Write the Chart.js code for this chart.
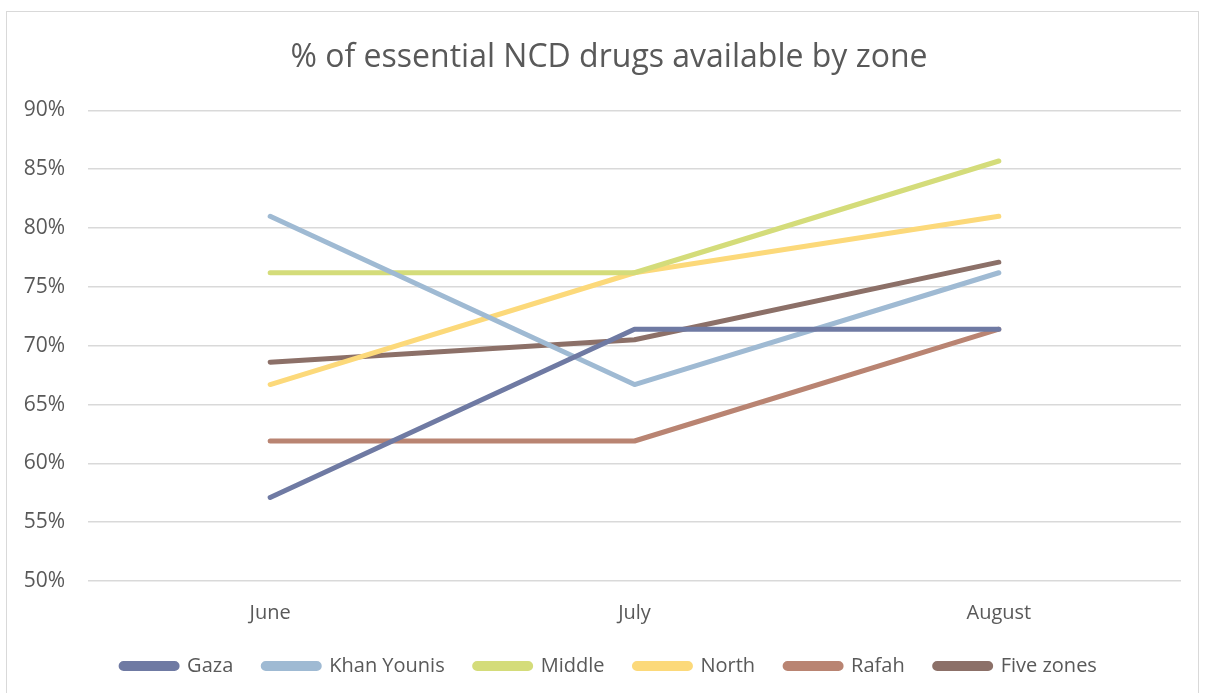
<!DOCTYPE html>
<html>
<head>
<meta charset="utf-8">
<script src="https://cdn.jsdelivr.net/npm/chart.js@4/dist/chart.umd.min.js"></script>
<style>
  html, body { margin: 0; padding: 0; background: #fff; }
  body { width: 1205px; height: 693px; position: relative; overflow: hidden; }
  .frame { position: absolute; left: 6px; top: 11px; width: 1193px; height: 690px; border: 1px solid #d9d9d9; box-sizing: border-box; }
  #chartWrap { position: absolute; left: 0; top: 0; width: 1205px; height: 693px; }
</style>
</head>
<body>
<div class="frame"></div>
<div id="chartWrap"><canvas id="ncdChart"></canvas></div>
<script>
// ─── DATA ───
const months = ['June', 'July', 'August'];
const gaza = [57.1, 71.4, 71.4];
const khanYounis = [81.0, 66.7, 76.2];
const middle = [76.2, 76.2, 85.7];
const north = [66.7, 76.2, 81.0];
const rafah = [61.9, 61.9, 71.4];
const fiveZones = [68.6, 70.5, 77.1];

const seriesNames = ['Gaza', 'Khan Younis', 'Middle', 'North', 'Rafah', 'Five zones'];
const seriesValues = [gaza, khanYounis, middle, north, rafah, fiveZones];
const seriesColors = ['#6f7aa3', '#9fbad3', '#d4dc7a', '#fcd97a', '#b98472', '#8c7068'];

const FONT = "'Open Sans', 'DejaVu Sans', sans-serif";
const TEXT = '#595959';

const datasets = seriesNames.map((name, i) => ({
    label: name,
    data: seriesValues[i],
    borderColor: seriesColors[i],
    backgroundColor: seriesColors[i],
    borderWidth: 5,
    borderCapStyle: 'round',
    borderJoinStyle: 'round',
    pointRadius: 0,
    tension: 0
}));

// y labels hang out into the left padding; widen the clip box so they show
const yLabelRoom = {
    id: 'yLabelRoom',
    afterLayout(chart) { chart.scales.y.left = 0; }
};

new Chart(document.getElementById('ncdChart'), {
    type: 'line',
    data: { labels: months, datasets },
    plugins: [yLabelRoom],
    options: {
        responsive: true, maintainAspectRatio: false, animation: false,
        // left padding is wide so the title and legend centre like the original
        layout: { padding: { left: 37, right: 24, top: 16, bottom: 7 } },
        plugins: {
            title: {
                display: true,
                text: '% of essential NCD drugs available by zone',
                color: TEXT,
                font: { family: FONT, size: 32, weight: '400' },
                padding: { top: 23, bottom: 33 }
            },
            legend: {
                position: 'bottom',
                labels: {
                    color: TEXT,
                    font: { family: FONT, size: 20 },
                    boxWidth: 56,
                    boxHeight: 5,
                    useBorderRadius: true,
                    borderRadius: 2.5,
                    padding: 30
                }
            },
            tooltip: { enabled: false }
        },
        scales: {
            x: {
                offset: true,
                grid: { display: false },
                border: { display: false },
                ticks: { color: TEXT, font: { family: FONT, size: 20 }, padding: 12 },
                afterFit: scale => { scale.height -= 11; }
            },
            y: {
                min: 50, max: 90,
                grid: { color: '#d9d9d9', lineWidth: 1.5, drawTicks: false },
                border: { display: false },
                ticks: {
                    stepSize: 5,
                    color: TEXT,
                    font: { family: FONT, size: 21 },
                    padding: 23,
                    callback: v => v + '%'
                },
                afterFit: scale => { scale.width = 51; }
            }
        }
    }
});
</script>
</body>
</html>
